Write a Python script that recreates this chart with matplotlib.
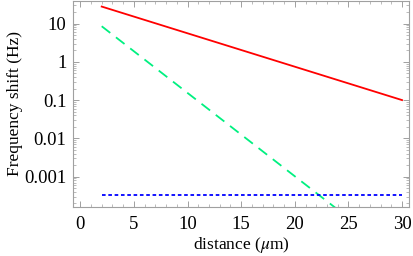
import matplotlib
matplotlib.use("Agg")
import matplotlib.pyplot as plt
import matplotlib.ticker as ticker
import numpy as np

# distance in micrometres, shift in Hz (straight lines on the log axis)
distance = [2, 30]
shift_red = [27.8, 0.1]
shift_green = [8.5, 6.8e-6]
shift_blue = [3.27e-4, 3.27e-4]

xticks = [0, 5, 10, 15, 20, 25, 30]
yticks = [10, 1, 0.1, 0.01, 0.001]
ytick_labels = ["10", "1", "0.1", "0.01", "0.001"]

plt.rcParams["font.family"] = ["Liberation Serif", "DejaVu Serif"]
plt.rcParams["mathtext.fontset"] = "stix"

fig = plt.figure(figsize=(4.14, 2.56), dpi=100)
ax = fig.add_axes([0.177, 0.193, 0.811, 0.805])

ax.plot(distance, shift_red, color="#ff0000", lw=1.3)
ax.plot(distance, shift_green, color="#00f080", lw=1.3, dashes=(6, 4))
ax.plot(distance, shift_blue, color="#0000ff", lw=1.3, dashes=(2, 1.5))

ax.set_yscale("log")
ax.set_xlim(-0.65, 30.65)
ax.set_ylim(1.65e-4, 40)

ax.set_xticks(xticks)
ax.xaxis.set_minor_locator(ticker.MultipleLocator(1))
ax.set_yticks(yticks)
ax.set_yticklabels(ytick_labels)
ax.yaxis.set_minor_locator(ticker.LogLocator(base=10, subs=np.arange(2, 10)))
ax.yaxis.set_minor_formatter(ticker.NullFormatter())

for side in ax.spines.values():
    side.set_color("#a0a0a0")
    side.set_linewidth(0.8)
ax.tick_params(which="both", direction="in", color="#a0a0a0", top=True, right=True,
               labelsize=13.5)
ax.tick_params(axis="x", pad=7)
ax.tick_params(axis="y", pad=5)
ax.tick_params(which="major", length=4, width=0.7)
ax.tick_params(which="minor", length=2, width=0.5)

ax.set_xlabel(r"distance ($\mu$m)", fontsize=12.5, labelpad=1)
ax.set_ylabel("Frequency shift (Hz)", fontsize=12.5, labelpad=1)

fig.savefig("out.png", dpi=100)
